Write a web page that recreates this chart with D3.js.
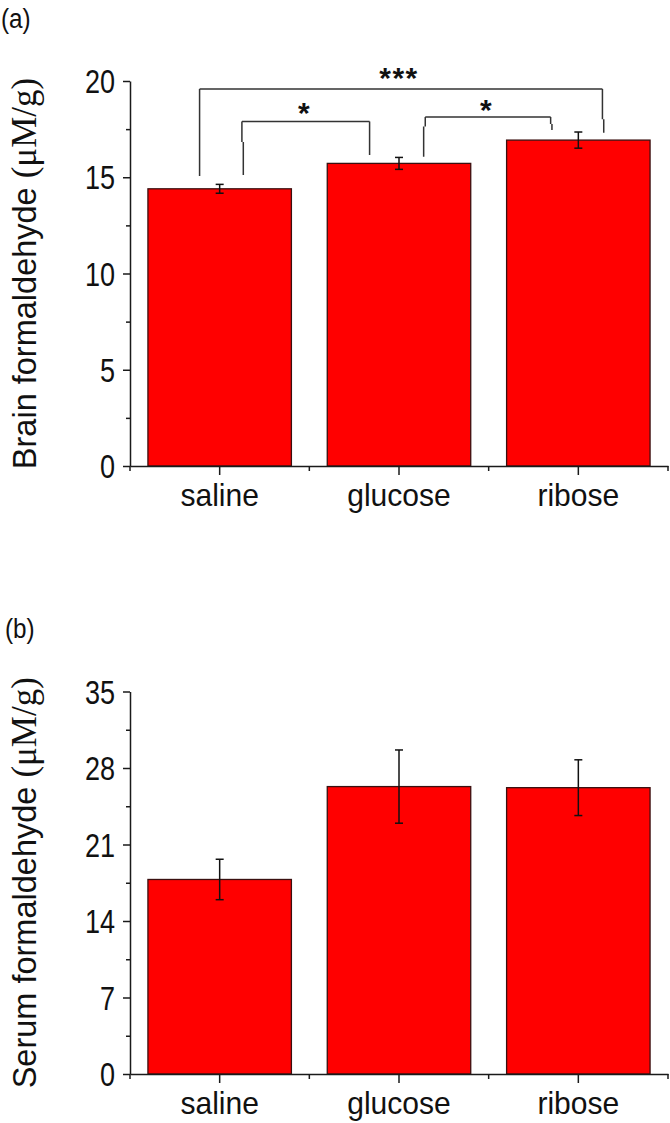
<!DOCTYPE html>
<html>
<head>
<meta charset="utf-8">
<script src="https://cdn.jsdelivr.net/npm/d3@7"></script>
<style>
  html, body { margin: 0; padding: 0; background: #fff; }
  svg { display: block; }
</style>
</head>
<body>
<svg id="chart" width="670" height="1123"></svg>
<script>
// ---------------- data ----------------
const categories = ["saline", "glucose", "ribose"];

const brainMeans = [14.4, 15.72, 16.93];
const brainErrors = [0.23, 0.31, 0.42];
const brainTicks = [0, 5, 10, 15, 20];

const serumMeans = [17.8, 26.3, 26.2];
const serumErrors = [1.85, 3.35, 2.55];
const serumTicks = [0, 7, 14, 21, 28, 35];

// significance brackets (panel a), heights in data units (µM/g)
const brainBrackets = [
  { from: 0, fromFrac: 0.36, to: 2, toFrac: 0.668, top: 19.58,
    fromBottom: 15.06, toBottom: 17.31, fromKink: null, toKink: 18.01, label: "***", labelAt: 20.5 },
  { from: 0, fromFrac: 0.655, to: 1, toFrac: 0.295, top: 17.89,
    fromBottom: 15.12, toBottom: 16.16, fromKink: 16.83, toKink: null, label: "*", labelAt: 18.7 },
  { from: 1, fromFrac: 0.683, to: 2, toFrac: 0.307, top: 18.13,
    fromBottom: 16.07, toBottom: 17.45, fromKink: 17.63, toKink: 17.77, label: "*", labelAt: 18.85 }
];

// ---------------- layout ----------------
const svg = d3.select("#chart");
svg.append("rect").attr("width", 670).attr("height", 1123).attr("fill", "#fff");

const AX = "#1a1a1a";
const SANS = "Liberation Sans, Arial, Helvetica, sans-serif";
const SERIF = "Liberation Serif, Times New Roman, serif";

function drawPanel(opts) {
  const g = svg.append("g");
  const x = d3.scaleBand().domain(categories).range([130, 668])
    .paddingInner(0.2).paddingOuter(0.1);
  const y = d3.scaleLinear().domain([0, opts.max]).range([opts.yBottom, opts.yTop]);

  // panel letter
  g.append("text")
    .attr("transform", `translate(${opts.letterX},${opts.letterY}) scale(0.9,1)`)
    .attr("font-family", SANS).attr("font-size", 27).attr("fill", "#111")
    .text(opts.letter);

  // bars
  g.selectAll("rect.bar").data(opts.means).join("rect")
    .attr("class", "bar")
    .attr("x", (d, i) => x(categories[i]))
    .attr("width", x.bandwidth())
    .attr("y", d => y(d))
    .attr("height", d => y(0) - y(d))
    .attr("fill", "#ff0000")
    .attr("stroke", "#3a1010")
    .attr("stroke-width", 1.3);

  // error bars
  const eb = g.selectAll("g.err").data(opts.means).join("g").attr("class", "err");
  const cx = i => x(categories[i]) + x.bandwidth() / 2;
  eb.append("line")
    .attr("x1", (d, i) => cx(i)).attr("x2", (d, i) => cx(i))
    .attr("y1", (d, i) => y(d + opts.errors[i])).attr("y2", (d, i) => y(d - opts.errors[i]))
    .attr("stroke", "#111").attr("stroke-width", 1.5);
  [1, -1].forEach(s => {
    eb.append("line")
      .attr("x1", (d, i) => cx(i) - 4).attr("x2", (d, i) => cx(i) + 4)
      .attr("y1", (d, i) => y(d + s * opts.errors[i])).attr("y2", (d, i) => y(d + s * opts.errors[i]))
      .attr("stroke", "#111").attr("stroke-width", 1.5);
  });

  // y axis major
  const yAxis = g.append("g").attr("transform", "translate(130,0)")
    .call(d3.axisLeft(y).tickValues(opts.ticks).tickSize(7).tickSizeOuter(0).tickFormat(""));
  yAxis.select(".domain").attr("stroke", AX).attr("stroke-width", 1.5);
  yAxis.selectAll(".tick line").attr("stroke", AX).attr("stroke-width", 1.5);
  // y tick labels (condensed like the original)
  g.selectAll("text.yl").data(opts.ticks).join("text").attr("class", "yl")
    .attr("transform", d => `translate(115,${y(d) + 12}) scale(0.82,1)`)
    .attr("text-anchor", "end")
    .attr("font-family", SANS).attr("font-size", 33).attr("fill", "#111")
    .text(d => d3.format("d")(d));
  // y axis minor
  const minor = d3.pairs(opts.ticks).map(p => (p[0] + p[1]) / 2);
  g.append("g").attr("transform", "translate(130,0)")
    .call(d3.axisLeft(y).tickValues(minor).tickSize(4).tickSizeOuter(0).tickFormat(""))
    .call(a => a.select(".domain").remove())
    .selectAll(".tick line").attr("stroke", AX).attr("stroke-width", 1.5);

  // x axis
  const xAxis = g.append("g").attr("transform", `translate(0,${y(0)})`)
    .call(d3.axisBottom(x).tickSize(9).tickSizeOuter(0).tickPadding(0).tickFormat(""));
  xAxis.select(".domain").attr("stroke", AX).attr("stroke-width", 1.5);
  xAxis.selectAll(".tick line").attr("stroke", AX).attr("stroke-width", 1.5);
  // x minor ticks at band boundaries
  const bounds = d3.range(categories.length + 1).map(i => x.range()[0] + i * x.step());
  g.selectAll("line.xminor").data(bounds).join("line").attr("class", "xminor")
    .attr("x1", d => d).attr("x2", d => d)
    .attr("y1", y(0)).attr("y2", y(0) + 5)
    .attr("stroke", AX).attr("stroke-width", 1.5);
  // x labels
  g.selectAll("text.xl").data(categories).join("text").attr("class", "xl")
    .attr("transform", d => `translate(${x(d) + x.bandwidth() / 2},${y(0) + 40}) scale(0.97,1)`)
    .attr("text-anchor", "middle")
    .attr("font-family", SANS).attr("font-size", 31).attr("fill", "#111")
    .text(d => d);

  // y title
  const t = g.append("text")
    .attr("transform", `translate(${opts.titleX},${(y(0) + y(opts.max)) / 2}) rotate(-90)`)
    .attr("text-anchor", "middle")
    .attr("font-size", 32.5).attr("fill", "#111");
  t.append("tspan").attr("font-family", SANS).text(opts.title + " ");
  t.append("tspan").attr("font-family", SERIF).attr("font-size", 35).text("(\u03BCM/g)");

  // brackets
  if (opts.brackets) {
    const bx = (cat, frac) => x(categories[cat]) + frac * x.bandwidth();
    opts.brackets.forEach(b => {
      const x1 = bx(b.from, b.fromFrac), x2 = bx(b.to, b.toFrac);
      const leg = (xx, kink, bottom, shift) => {
        if (kink == null) return `M${xx},${y(bottom)}L${xx},${y(b.top)}`;
        return `M${xx + shift},${y(bottom)}L${xx + shift},${y(kink)}M${xx},${y(kink)}L${xx},${y(b.top)}`;
      };
      const d = leg(x1, b.fromKink, b.fromBottom, b.from === 0 ? 1.4 : -1.6) +
        `M${x1},${y(b.top)}L${x2},${y(b.top)}` +
        leg(x2, b.toKink, b.toBottom, 1.3);
      g.append("path").attr("d", d).attr("fill", "none")
        .attr("stroke", "#333").attr("stroke-width", 1.5);
      g.append("text")
        .attr("x", (x1 + x2) / 2 - 2)
        .attr("y", y(b.labelAt) + 0.57 * 30)
        .attr("text-anchor", "middle")
        .attr("font-family", SANS).attr("font-weight", "bold").attr("font-size", 30)
        .attr("letter-spacing", b.label.length > 1 ? 1.5 : 0)
        .attr("fill", "#111")
        .text(b.label);
    });
  }
}

drawPanel({
  letter: "(a)", letterX: 1, letterY: 28,
  means: brainMeans, errors: brainErrors, ticks: brainTicks, max: 20,
  yBottom: 466, yTop: 81,
  title: "Brain formaldehyde", titleX: 36,
  brackets: brainBrackets
});

drawPanel({
  letter: "(b)", letterX: 5, letterY: 638,
  means: serumMeans, errors: serumErrors, ticks: serumTicks, max: 35,
  yBottom: 1074, yTop: 691.5,
  title: "Serum formaldehyde", titleX: 36,
  brackets: null
});
</script>
</body>
</html>
